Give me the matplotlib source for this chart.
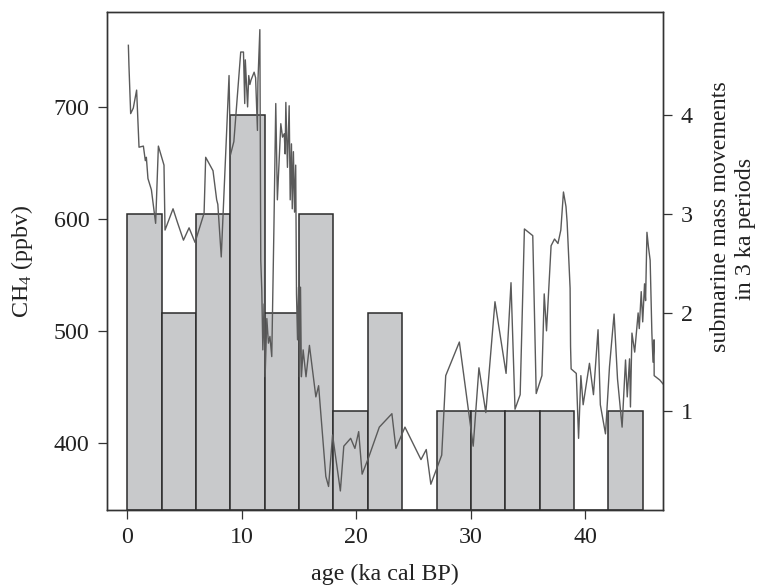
import matplotlib
matplotlib.use("Agg")
import matplotlib.pyplot as plt

plt.rcParams['font.family'] = ['Liberation Serif', 'DejaVu Serif']
plt.rcParams['mathtext.default'] = 'regular'

FS = 17.3

# submarine mass movements per 3 ka bin
bin_start = [0, 3, 6, 9, 12, 15, 18, 21, 24, 27, 30, 33, 36, 39, 42]
movements = [3, 2, 3, 4, 2, 3, 1, 2, 0, 1, 1, 1, 1, 0, 1]

# CH4 record (age in ka cal BP, ppbv)
age = [0.09, 0.14, 0.29, 0.52, 0.81, 1.02, 1.40, 1.57, 1.66, 1.80, 2.10, 2.47,
       2.71, 3.20, 3.29, 3.99, 4.37, 4.90, 5.39, 5.91, 6.70, 6.84, 7.48, 7.80,
       7.90, 8.20, 8.88, 9.00, 9.30, 9.90, 10.14, 10.25, 10.30, 10.50, 10.60,
       10.70, 10.80, 11.07, 11.20, 11.36, 11.40, 11.57, 11.65, 11.74, 11.83,
       11.94, 12.03, 12.18, 12.32, 12.45, 12.61, 12.80, 12.96, 13.10, 13.40,
       13.55, 13.70, 13.78, 13.84, 13.98, 14.13, 14.22, 14.33, 14.40, 14.50,
       14.60, 14.70, 14.77, 14.86, 14.95, 15.03, 15.12, 15.20, 15.35, 15.60,
       15.90, 16.46, 16.70, 17.33, 17.57, 17.92, 18.60, 18.90, 19.50, 19.87,
       20.20, 20.50, 21.07, 22.00, 23.10, 23.45, 24.24, 25.64, 26.10, 26.50,
       27.45, 27.80, 28.99, 30.20, 30.70, 31.30, 32.10, 33.07, 33.50, 33.85,
       34.30, 34.67, 35.40, 35.70, 36.20, 36.40, 36.60, 37.00, 37.30, 37.60,
       37.85, 38.08, 38.30, 38.40, 38.66, 38.70, 38.75, 39.20, 39.40, 39.60,
       39.80, 40.35, 40.70, 41.10, 41.30, 41.75, 42.10, 42.50, 42.80, 43.20,
       43.50, 43.65, 43.85, 43.93, 44.06, 44.30, 44.60, 44.70, 44.87, 45.00,
       45.16, 45.25, 45.37, 45.50, 45.65, 45.80, 45.90, 45.99, 46.00, 46.50,
       46.90]
ch4 = [755, 737, 694, 699, 715, 664, 665, 652, 655, 636, 626, 596,
       665, 648, 590, 609, 597, 581, 592, 579, 605, 655, 643, 617,
       613, 566, 728, 657, 669, 749, 749, 703, 742, 700, 728,
       720, 724, 731, 726, 679, 722, 769, 563, 536, 483,
       524, 459, 511, 489, 495, 477, 593, 703, 617, 685,
       673, 676, 658, 704, 646, 701, 617, 667, 609, 660,
       606, 648, 533, 492, 539, 459, 539, 459, 483, 459,
       487, 441, 451, 370, 361, 407, 357, 397, 404, 395,
       410, 372, 387, 414, 426, 395, 414, 385, 394, 363,
       389, 460, 490, 397, 467, 427, 526, 462, 543, 430,
       443, 591, 585, 444, 460, 533, 500, 576, 582, 578,
       590, 624, 611, 597, 538, 486, 466, 462, 404, 460,
       434, 471, 443, 501, 434, 408, 468, 515, 457, 414,
       474, 441, 475, 432, 498, 481, 516, 502, 535, 508,
       542, 527, 588, 575, 563, 498, 472, 492, 460, 456,
       451]

fig = plt.figure(figsize=(7.58, 5.86), dpi=100)
ax = fig.add_axes([0.1408, 0.1297, 0.7343, 0.8503])
ax2 = ax.twinx()

# bars on right-hand scale, drawn beneath the CH4 line
ax2.bar(bin_start, movements, width=3, align='edge', color='#c8c9cb',
        edgecolor='#2b2b2b', linewidth=1.1)
ax2.set_ylim(0, 5.05)
ax2.set_yticks([1, 2, 3, 4])

ax.plot(age, ch4, color='#5a5a5a', linewidth=1.0)
ax.set_xlim(-1.8, 46.8)
ax.set_ylim(340, 785)
ax.set_xticks([0, 10, 20, 30, 40])
ax.set_yticks([400, 500, 600, 700])
ax.set_zorder(ax2.get_zorder() + 1)
ax.patch.set_visible(False)

for a in (ax, ax2):
    for s in a.spines.values():
        s.set_color('#333333')
        s.set_linewidth(1.0)
    a.tick_params(direction='out', length=6.5, width=0.9, color='#333333',
                  labelsize=FS, labelcolor='#222222', pad=6)
ax.tick_params(axis='x', pad=6)

ax.set_xlabel('age (ka cal BP)', fontsize=FS, color='#222222', va='center')
ax.xaxis.set_label_coords(0.5, -0.130)
ax.set_ylabel('CH$_4$ (ppbv)', fontsize=FS, color='#222222', va='center')
ax.yaxis.set_label_coords(-0.152, 0.5)

fig.text(721 / 758, 1 - 217 / 586, 'submarine mass movements', rotation=90,
         ha='center', va='center', fontsize=FS, color='#222222')
fig.text(745 / 758, 1 - 229 / 586, 'in 3 ka periods', rotation=90,
         ha='center', va='center', fontsize=FS, color='#222222')

fig.savefig('out.png', dpi=100)
